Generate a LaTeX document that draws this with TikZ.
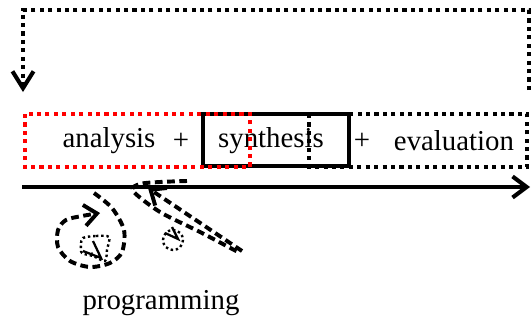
\documentclass[tikz,border=0pt]{standalone}
\usepackage{fontspec}
\setmainfont{Liberation Serif}
\usetikzlibrary{arrows.meta}

\begin{document}
\begin{tikzpicture}[x=0.025cm,y=-0.025cm,
            every node/.style={font=\fontsize{20.5}{24}\selectfont,inner sep=0pt},
            dotline/.style={line width=2.9pt,dash pattern=on 2.9pt off 3.1pt},
            dashline/.style={line width=2.8pt,dash pattern=on 5.5pt off 3.2pt},
            tinydots/.style={line width=1.7pt,dash pattern=on 1.7pt off 2pt},
            barb/.style={-{Straight Barb[length=#1,width=15pt]}}]
    \useasboundingbox (0,0) rectangle (532,322);

    % text row
    \node (ana)  at (109,141) {analysis};
    \node (plA)  at (181,141) {+};
    \node (syn)  at (271,141) {synthesis};
    \node (plB)  at (362,141) {+};
    \node (eva)  at (454,141) {evaluation};
    \node (prog) at (161,303) {programming};

    % boxes
    \draw[line width=2.9pt] (203,114) rectangle (349,166);
    \draw[dotline] (309,114) rectangle (527,167);
    \draw[dotline,red] (25,114) rectangle (250,167);

    % feedback loop on top
    \coordinate (fbS) at (529,90);
    \coordinate (fbE) at (23,92);
    \draw[dotline,barb=12pt] (fbS) |- (23,10) -- (fbE);

    % time axis
    \coordinate (axS) at (22,187);
    \coordinate (axE) at (530,187);
    \draw[line width=2.9pt,barb=10pt] (axS) -- (axE);

    % left scribble
    \draw[dashline,barb=9pt] plot[smooth] coordinates {(94,193) (112,208) (124,230) (122,252) (110,263) (90,267) (70,261) (58,247) (58,230) (66,220) (82,216) (100,213)};
    \draw[tinydots] plot[smooth cycle] coordinates {(83,238) (96,236) (109,237) (107,250) (105,261) (93,256) (82,253) (81,245)};
    \draw[line width=1.6pt] (93,241) -- (101,258) -- (83,251);
    \fill (92,253) circle (1);

    % right scribble
    \draw[dashline] plot[smooth] coordinates {(187,181) (160,182) (140,184) (133,191) (160,212) (200,232) (238,252)};
    \draw[dashline,barb=9pt] (242,251) -- (148,188);
    \draw[tinydots] (173,240) circle (10);
    \draw[line width=1.6pt] (165,233) -- (178,239) -- (172,227);
\end{tikzpicture}
\end{document}
